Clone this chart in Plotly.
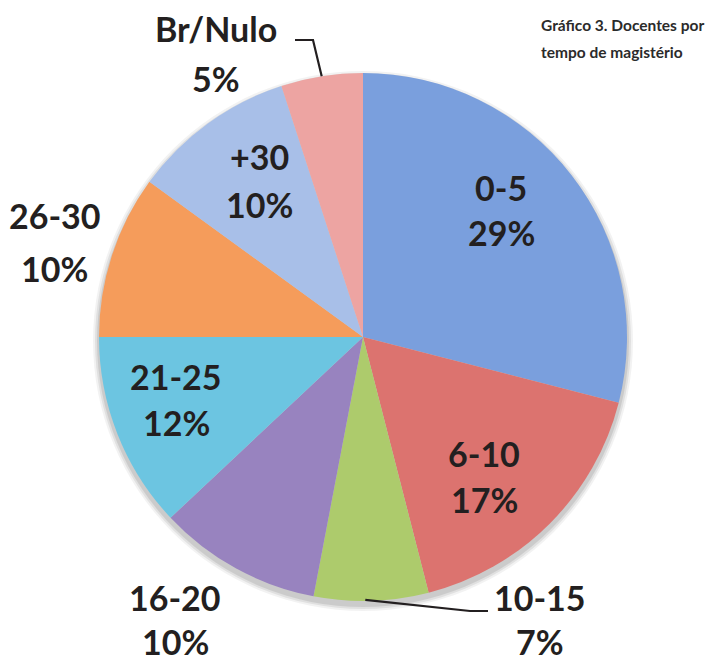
import math
import plotly.graph_objects as go

# Teachers by years of teaching (share of respondents, %)
categories = ["0-5", "6-10", "10-15", "16-20", "21-25", "26-30", "+30", "Br/Nulo"]
shares = [29, 17, 7, 10, 12, 10, 10, 5]
colors = ["#7A9FDD", "#DC736F", "#ADCB6C", "#9883BF", "#6CC5E1", "#F59C5B", "#A8BFE8", "#EDA4A2"]

title_lines = ["Gráfico 3. Docentes por", "tempo de magistério"]

W, H = 721, 663
cx, cy, R = 363, 337, 264  # pie centre / radius in pixels

fig = go.Figure()
fig.add_trace(go.Pie(
    labels=categories,
    values=shares,
    sort=False,
    direction="clockwise",
    rotation=0,
    marker=dict(colors=colors, line=dict(width=0)),
    textinfo="none",
    hoverinfo="label+percent",
    showlegend=False,
    domain=dict(x=[(cx - R) / W, (cx + R) / W],
                y=[(H - cy - R) / H, (H - cy + R) / H]),
))

# label placement (pixel centres of the two text lines)
label_pos = {
    "0-5": (501, 187, 233),
    "6-10": (484, 453, 499),
    "10-15": (540, 597, 641),
    "16-20": (175, 597, 641),
    "21-25": (176, 376, 423),
    "26-30": (55, 216, 268),
    "+30": (259, 156, 204),
    "Br/Nulo": (216, 29, 78),
}

def px(x):
    return x / W

def py(y):
    return 1 - y / H

font_lbl = dict(family="Lato, 'Open Sans', sans-serif", size=34, color="#231F20")
annotations = []
total = sum(shares)
for cat, val in zip(categories, shares):
    x, y1, y2 = label_pos[cat]
    pct = round(100 * val / total)
    for txt, yy in ((cat, y1), (f"{pct}%", y2)):
        annotations.append(dict(
            text=f"<b>{txt}</b>", x=px(x), y=py(yy), xref="paper", yref="paper",
            xanchor="center", yanchor="middle", showarrow=False, font=font_lbl))

# chart title, top right
for txt, yy in zip(title_lines, (25, 52)):
    annotations.append(dict(
        text=f"<b>{txt}</b>", x=px(539), y=py(yy), xref="paper", yref="paper",
        xanchor="left", yanchor="middle", showarrow=False,
        font=dict(family="Lato, 'Open Sans', sans-serif", size=15.5, color="#2B2B2B")))

# leader lines from outside labels to the middle of their slices
def slice_edge(cat):
    i = categories.index(cat)
    start = sum(shares[:i])
    mid = (start + shares[i] / 2) / total * 2 * math.pi
    return cx + R * math.sin(mid), cy - R * math.cos(mid)

shapes = []
# soft drop shadow beneath the pie
for grow, alpha in ((6, 0.05), (4, 0.07), (2, 0.09)):
    r = R + grow
    shapes.append(dict(type="circle", xref="paper", yref="paper", layer="below",
                       x0=px(cx - r), x1=px(cx + r), y0=py(cy + 4 + r), y1=py(cy + 4 - r),
                       fillcolor=f"rgba(0,0,0,{alpha})", line=dict(width=0)))

ex, ey = slice_edge("Br/Nulo")
shapes.append(dict(type="path", xref="paper", yref="paper",
                   path=f"M {px(295)} {py(40)} L {px(313)} {py(40)} L {px(ex)} {py(ey)}",
                   line=dict(color="#231F20", width=2.2)))
ex, ey = slice_edge("10-15")
shapes.append(dict(type="path", xref="paper", yref="paper",
                   path=f"M {px(ex - 6)} {py(ey - 1)} L {px(470)} {py(611)} L {px(488)} {py(611)}",
                   line=dict(color="#231F20", width=2.2)))

fig.update_layout(
    width=W, height=H,
    margin=dict(l=0, r=0, t=0, b=0),
    paper_bgcolor="white", plot_bgcolor="white",
    annotations=annotations,
    shapes=shapes,
)

fig.write_html("out.html")
